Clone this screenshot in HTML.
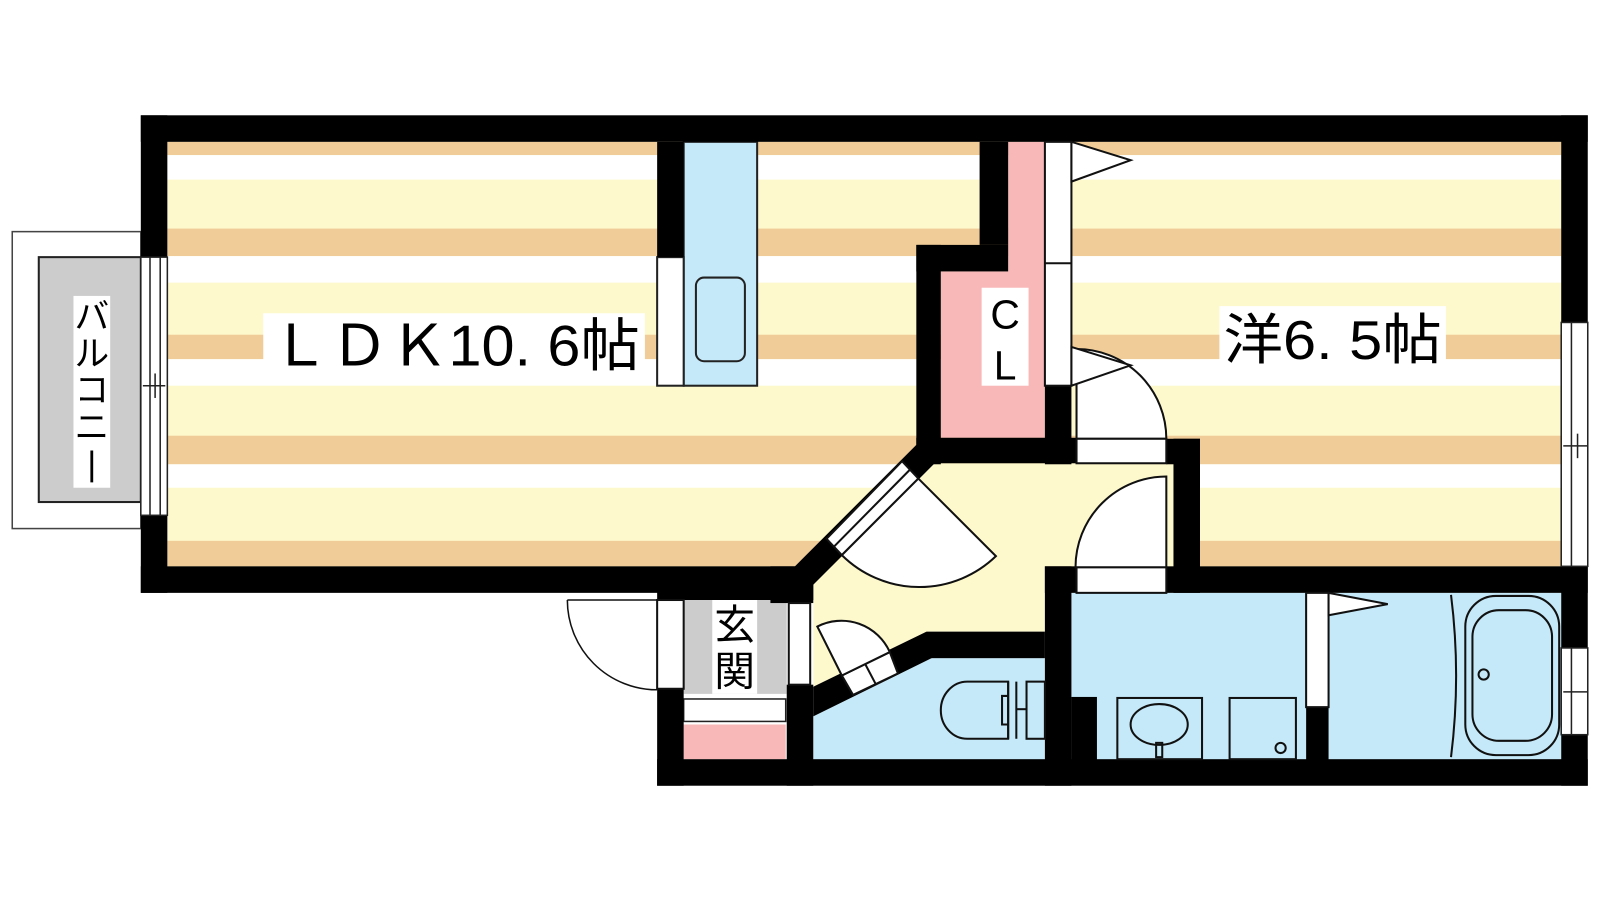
<!DOCTYPE html>
<html><head><meta charset="utf-8"><style>
html,body{margin:0;padding:0;background:#fff;width:1600px;height:900px;overflow:hidden}
svg{display:block}
text{font-family:"Liberation Sans","Noto Sans CJK JP",sans-serif;fill:#000}
</style></head><body>
<svg width="1600" height="900" viewBox="0 0 1568 882" xmlns="http://www.w3.org/2000/svg">
<rect x="0" y="0" width="1568" height="882" fill="#fff"/>
<rect x="12" y="227" width="126" height="291" fill="#fff" stroke="#444" stroke-width="1.5"/>
<rect x="38" y="252" width="100" height="240" fill="#cccccc" stroke="#222" stroke-width="2"/>
<rect x="72" y="290" width="36" height="188" fill="#fff"/>
<g font-size="34" text-anchor="middle">
<text x="90" y="322">バ</text>
<text x="90" y="358">ル</text>
<text x="90" y="394">コ</text>
<text x="90" y="430">ニ</text>
<text x="90" y="470">丨</text>
</g>
<g>
<rect x="164" y="139" width="1366" height="416" fill="#fef9cc"/>
<rect x="164" y="139" width="1366" height="13" fill="#f0cd98"/>
<rect x="164" y="152" width="1366" height="24" fill="#fff"/>
<rect x="164" y="224" width="1366" height="27" fill="#f0cd98"/>
<rect x="164" y="251" width="1366" height="26" fill="#fff"/>
<rect x="164" y="328" width="1366" height="24" fill="#f0cd98"/>
<rect x="164" y="352" width="1366" height="26" fill="#fff"/>
<rect x="164" y="427" width="1366" height="28" fill="#f0cd98"/>
<rect x="164" y="455" width="1366" height="23" fill="#fff"/>
<rect x="164" y="530" width="1366" height="25" fill="#f0cd98"/>
</g>
<polygon points="797,573 916,454 1150,454 1150,556 1024,556 1024,619 908,619 797,673" fill="#fef9cc"/>
<polygon points="922,266 988,266 988,139 1024,139 1024,429 922,429" fill="#f8b8b8"/>
<rect x="670" y="139" width="72" height="239" fill="#c5e9f8" stroke="#222" stroke-width="2"/>
<rect x="644" y="252" width="26" height="126" fill="#fff" stroke="#222" stroke-width="2"/>
<rect x="682" y="272" width="48" height="82" rx="8" fill="none" stroke="#222" stroke-width="2"/>
<polygon points="797,702 913,645 1024,645 1024,745 797,745" fill="#c5e9f8"/>
<rect x="1050" y="581" width="230" height="164" fill="#c5e9f8"/>
<rect x="1302" y="581" width="228" height="164" fill="#c5e9f8"/>
<rect x="670" y="581" width="101" height="99" fill="#cccccc"/>
<rect x="698" y="585" width="44" height="95" fill="#fff"/>
<text x="720" y="626" font-size="40" text-anchor="middle">玄</text>
<text x="720" y="672" font-size="40" text-anchor="middle">関</text>
<rect x="670" y="685" width="100" height="22" fill="#fff" stroke="#222" stroke-width="1.5"/>
<rect x="670" y="710" width="100" height="34" fill="#f8b8b8"/>
<g fill="#000">
<rect x="138" y="113" width="1418" height="26"/>
<rect x="138" y="113" width="26" height="139"/>
<rect x="138" y="505" width="26" height="76"/>
<rect x="138" y="555" width="642" height="26"/>
<rect x="644" y="570" width="153" height="18"/>
<rect x="755" y="555" width="42" height="36"/>
<polygon points="779,555 898,436 916,454 797,573"/>
<rect x="644" y="139" width="26" height="113"/>
<rect x="960" y="139" width="28" height="101"/>
<rect x="898" y="240" width="90" height="26"/>
<rect x="898" y="240" width="24" height="215"/>
<rect x="898" y="429" width="158" height="25"/>
<rect x="1024" y="378" width="26" height="77"/>
<rect x="1143" y="430" width="33" height="25"/>
<rect x="1150" y="430" width="26" height="151"/>
<rect x="1024" y="555" width="532" height="26"/>
<rect x="1024" y="555" width="26" height="215"/>
<rect x="1530" y="113" width="26" height="657"/>
<rect x="908" y="619" width="116" height="26"/>
<polygon points="797,673 908,619 913,645 797,702"/>
<rect x="644" y="675" width="26" height="95"/>
<rect x="644" y="744" width="912" height="26"/>
<rect x="771" y="671" width="26" height="99"/>
<rect x="1050" y="683" width="25" height="62"/>
<rect x="1280" y="693" width="22" height="52"/>
</g>
<g fill="#fff" stroke="#222" stroke-width="1.5">
<rect x="138" y="252" width="26" height="253"/>
<rect x="1530" y="316" width="26" height="239"/>
<rect x="1530" y="635" width="26" height="85"/>
</g>
<g stroke="#222" stroke-width="1.5" fill="none">
<line x1="147" y1="252" x2="147" y2="505"/><line x1="157" y1="252" x2="157" y2="505"/>
<line x1="140" y1="378" x2="162" y2="378"/><line x1="152" y1="366" x2="152" y2="390"/>
<line x1="1540" y1="316" x2="1540" y2="555"/><line x1="1532" y1="437" x2="1556" y2="437"/><line x1="1546" y1="425" x2="1546" y2="449"/>
<line x1="1540" y1="635" x2="1540" y2="720"/><line x1="1532" y1="678" x2="1556" y2="678"/>
</g>
<g fill="#fff" stroke="#111" stroke-width="2">
<polygon points="810,528 884,452 900,469 825,544"/>
<line x1="817" y1="536" x2="892" y2="460"/>
<path d="M900,469 L976,545 A108,108 0 0 1 825,544 Z"/>
<rect x="1024" y="139" width="26" height="239"/>
<line x1="1024" y1="258" x2="1050" y2="258"/>
<polygon points="1050,139 1108,157 1050,178"/>
<path d="M1055,430 L1055,342 A88,88 0 0 1 1143,430 Z"/>
<polygon points="1050,340 1108,358 1050,378"/>
<rect x="1055" y="430" width="88" height="24"/>
<path d="M1143,556 L1143,467 A89,89 0 0 0 1054,556 Z"/>
<rect x="1055" y="556" width="88" height="25"/>
<rect x="644" y="588" width="26" height="87"/>
<rect x="773" y="591" width="21" height="80"/>
<polygon points="825,662 872,639 880,660 836,681"/>
<line x1="848" y1="651" x2="858" y2="670"/>
<path d="M825,662 L801,614 A52,52 0 0 1 872,639 Z"/>
<rect x="1280" y="581" width="22" height="112"/>
<polygon points="1302,581 1360,592 1302,603"/>
</g>
<path d="M556,588 H644 M556,588 A88,88 0 0 0 644,676" fill="none" stroke="#111" stroke-width="1.5"/>
<g fill="none" stroke="#111" stroke-width="2">
<path d="M988,668 H948 A26,28 0 0 0 948,724 H988 Z"/>
<path d="M988,668 V724 M996,668 V724 M988,682 H982 V710 H988"/>
<rect x="1006" y="668" width="18" height="56"/>
<line x1="996" y1="695" x2="1006" y2="695"/>
<rect x="1095" y="684" width="83" height="60"/>
<ellipse cx="1136" cy="710" rx="28" ry="20"/>
<rect x="1133" y="728" width="6" height="14"/>
<rect x="1205" y="684" width="65" height="60"/>
<circle cx="1255" cy="733" r="5"/>
<rect x="1436" y="584" width="92" height="156" rx="30"/>
<rect x="1443" y="598" width="78" height="128" rx="26"/>
<circle cx="1454" cy="661" r="5"/>
<path d="M1422,583 Q1432,662 1422,742"/>
</g>
<rect x="258" y="307" width="374" height="59" fill="#fff"/>
<text x="265" y="358" font-size="56" textLength="362" lengthAdjust="spacingAndGlyphs">ＬＤＫ10. 6帖</text>
<rect x="1195" y="300" width="222" height="58" fill="#fff"/>
<text x="1199" y="352" font-size="54" textLength="214" lengthAdjust="spacingAndGlyphs">洋6. 5帖</text>
<rect x="962" y="282" width="46" height="96" fill="#fff"/>
<text x="985" y="322" font-size="40" text-anchor="middle">C</text>
<text x="985" y="372" font-size="40" text-anchor="middle">L</text>
</svg>
</body></html>
